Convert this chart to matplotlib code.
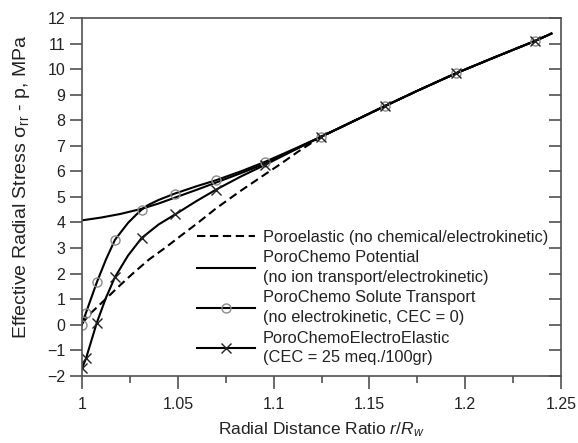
import matplotlib
matplotlib.use("Agg")
import matplotlib.pyplot as plt
from matplotlib.lines import Line2D
from matplotlib.ticker import MultipleLocator

plt.rcParams['font.family'] = ['Liberation Sans', 'DejaVu Sans']
plt.rcParams['mathtext.fontset'] = 'custom'
plt.rcParams['mathtext.rm'] = 'Liberation Sans'
plt.rcParams['mathtext.it'] = 'Liberation Sans:italic'

# ---- data ----
common_x = [1.1247, 1.14, 1.158, 1.175, 1.195, 1.215, 1.2364, 1.245]
common_y = [7.35, 7.9, 8.55, 9.15, 9.83, 10.45, 11.1, 11.39]

poroelastic_x = [1.0, 1.005, 1.0129, 1.02, 1.0268, 1.035, 1.0442, 1.0511,
                 1.0599, 1.07, 1.0825, 1.0955, 1.1033, 1.113] + common_x
poroelastic_y = [0.05, 0.48, 1.04, 1.55, 2.02, 2.55, 3.05, 3.45,
                 3.95, 4.55, 5.22, 5.88, 6.27, 6.78] + common_y

potential_x = [1.0, 1.01, 1.02, 1.031, 1.04, 1.0485, 1.06, 1.07, 1.083,
               1.0955, 1.11] + common_x
potential_y = [4.08, 4.19, 4.33, 4.53, 4.74, 4.97, 5.28, 5.56, 5.93,
               6.3, 6.82] + common_y

solute_x = [1.0, 1.002, 1.0077, 1.0125, 1.0172, 1.024, 1.028, 1.0311, 1.0345,
            1.04, 1.0485, 1.06, 1.0699, 1.083, 1.0955, 1.11] + common_x
solute_y = [0.0, 0.45, 1.65, 2.55, 3.32, 3.98, 4.28, 4.5, 4.68,
            4.88, 5.13, 5.42, 5.65, 6.0, 6.37, 6.85] + common_y

electro_x = [1.0, 1.0021, 1.005, 1.0077, 1.0125, 1.0172, 1.024, 1.0311, 1.04,
             1.049, 1.0594, 1.0699, 1.083, 1.0955, 1.11] + common_x
electro_y = [-1.71, -1.32, -0.6, 0.07, 1.05, 1.86, 2.7, 3.39, 3.92,
             4.33, 4.82, 5.28, 5.8, 6.25, 6.8] + common_y

# marker positions
mark_x = [1.0, 1.002, 1.0077, 1.0172, 1.0311, 1.0485, 1.0699, 1.0955,
          1.1247, 1.158, 1.195, 1.2364]
solute_mark_y = [0.0, 0.45, 1.65, 3.32, 4.5, 5.13, 5.65, 6.37,
                 7.35, 8.55, 9.83, 11.1]
electro_mark_y = [-1.71, -1.32, 0.07, 1.86, 3.39, 4.33, 5.28, 6.25,
                  7.35, 8.55, 9.83, 11.1]

labels = ["Poroelastic (no chemical/electrokinetic)",
          "PoroChemo Potential\n(no ion transport/electrokinetic)",
          "PoroChemo Solute Transport\n(no electrokinetic, CEC = 0)",
          "PoroChemoElectroElastic\n(CEC = 25 meq./100gr)"]

xticks = [1, 1.05, 1.1, 1.15, 1.2, 1.25]
xticklabels = ["1", "1.05", "1.1", "1.15", "1.2", "1.25"]
yticks = list(range(-2, 13))

# ---- figure ----
fig = plt.figure(figsize=(5.78, 4.43), dpi=100)
ax = fig.add_axes([0.1419, 0.1519, 0.9706 - 0.1419, 0.9594 - 0.1519])

lw = 1.5
dash = (0, (4, 2.2))
ax.plot(poroelastic_x, poroelastic_y, color='black', lw=lw, ls=dash)
ax.plot(potential_x, potential_y, color='black', lw=lw)
ax.plot(solute_x, solute_y, color='black', lw=lw)
ax.plot(electro_x, electro_y, color='black', lw=lw)
ax.plot(mark_x, solute_mark_y, ls='none', marker='o', ms=6.5,
        mfc='none', mec='#8a8a8a', mew=1.0)
ax.plot(mark_x, electro_mark_y, ls='none', marker='x', ms=6.5,
        color='#222222', mew=1.0)

ax.set_xlim(1.0, 1.25)
ax.set_ylim(-2, 12)
ax.set_xticks(xticks)
ax.set_xticklabels(xticklabels)
ax.xaxis.set_minor_locator(MultipleLocator(0.025))
ax.set_yticks(yticks)

spine_col = '#505050'
for s in ax.spines.values():
    s.set_color(spine_col)
    s.set_linewidth(1.2)

ax.tick_params(axis='x', which='major', direction='out', length=9, width=1.2,
               color=spine_col, labelsize=11.5, pad=6, labelcolor='#222222')
ax.tick_params(axis='x', which='minor', direction='out', length=5, width=1.2,
               color=spine_col)
ax.tick_params(axis='y', which='major', direction='out', length=9, width=1.2,
               color=spine_col, labelsize=11.5, pad=3, labelcolor='#222222')

# right-side inward ticks
axr = ax.twinx()
axr.set_ylim(ax.get_ylim())
axr.set_yticks(yticks)
axr.tick_params(axis='y', direction='in', length=9, width=1.2,
                color=spine_col, labelright=False)
for s in axr.spines.values():
    s.set_visible(False)

ax.set_xlabel('Radial Distance Ratio $r/R_w$', fontsize=12.5, color='#222222',
              labelpad=6)
ax.set_ylabel('Effective Radial Stress σ$_{\\mathrm{rr}}$ - p, MPa',
              fontsize=14, color='#222222')
ax.yaxis.set_label_coords(-0.104, 0.529)

handles = [
    Line2D([], [], color='black', lw=lw, ls=dash),
    Line2D([], [], color='black', lw=lw),
    Line2D([], [], color='black', lw=lw, marker='o', ms=6.5, mfc='none',
           mec='#8a8a8a', mew=1.0),
    Line2D([], [], color='black', lw=lw, marker='x', ms=6.5, mec='#222222',
           mew=1.0),
]
leg = ax.legend(handles, labels, loc='upper left',
                bbox_to_anchor=(0.24, 0.408), frameon=False, fontsize=11.8,
                handlelength=3.55, handletextpad=0.45, labelspacing=0.33,
                borderpad=0.0, borderaxespad=0.0, numpoints=1)
for t in leg.get_texts():
    t.set_linespacing(1.4)
    t.set_color('#222222')

fig.savefig('out.png', dpi=100)
